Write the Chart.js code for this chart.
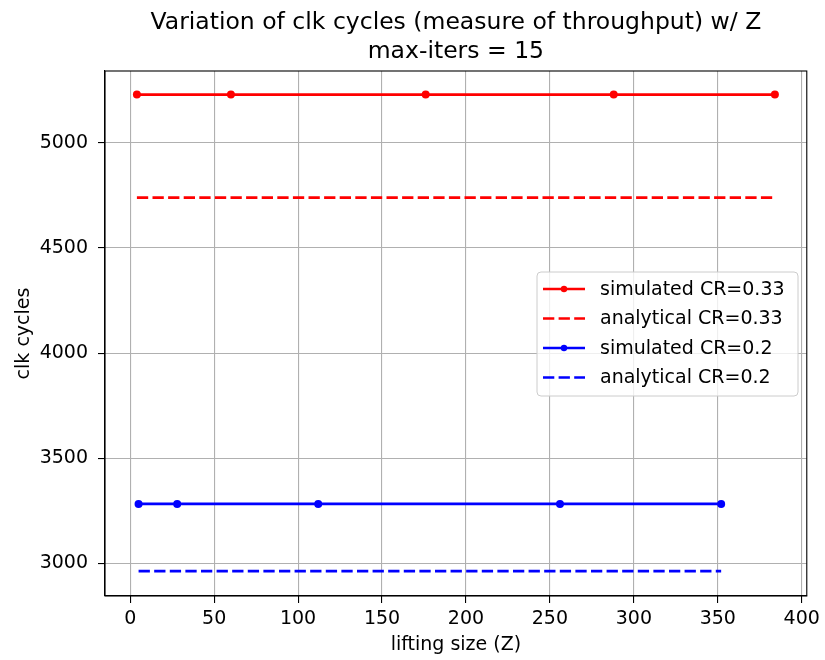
<!DOCTYPE html>
<html>
<head>
<meta charset="utf-8">
<script src="https://cdn.jsdelivr.net/npm/chart.js@4"></script>
<style>
  html, body { margin: 0; padding: 0; background: #fff; }
  #wrap { width: 825px; height: 660px; }
</style>
</head>
<body>
<div id="wrap"><canvas id="clkChart" width="825" height="660"></canvas></div>
<script>
// values
const zCR033 = [4, 60, 176, 288, 384];
const simCR033 = [5230, 5230, 5230, 5230, 5230];
const anaCR033 = [4740, 4740, 4740, 4740, 4740];

const zCR02 = [5, 28, 112, 256, 352];
const simCR02 = [3283, 3283, 3283, 3283, 3283];
const anaCR02 = [2963, 2963, 2963, 2963, 2963];

const xTicks = [0, 50, 100, 150, 200, 250, 300, 350, 400];
const yTicks = [3000, 3500, 4000, 4500, 5000];

const titleLines = ["Variation of clk cycles (measure of throughput) w/ Z", "max-iters = 15"];

const FONT = "'DejaVu Sans', sans-serif";
const toPts = (xs, ys) => xs.map((x, i) => ({ x, y: ys[i] }));

// title centred over the axes, box round the axes, legend inside the plot
const decorations = {
  id: "decorations",
  afterDatasetsDraw(chart) {
    const { ctx, chartArea: a } = chart;
    ctx.save();
    ctx.strokeStyle = "#000";
    ctx.lineWidth = 1.1;
    ctx.strokeRect(a.left, a.top, a.right - a.left, a.bottom - a.top);
    ctx.restore();
  },
  afterDraw(chart) {
    const { ctx, chartArea: a } = chart;
    const cx = (a.left + a.right) / 2;
    ctx.save();
    ctx.fillStyle = "#000";
    ctx.font = "23.5px " + FONT;
    ctx.textAlign = "center";
    ctx.textBaseline = "alphabetic";
    ctx.fillText(titleLines[0], cx, 29);
    ctx.fillText(titleLines[1], cx, 58);

    // legend
    const bx = 537, by = 272, bw = 261, bh = 124, rowH = 29.5;
    ctx.beginPath();
    ctx.roundRect(bx, by, bw, bh, 4);
    ctx.fillStyle = "rgba(255,255,255,0.8)";
    ctx.fill();
    ctx.strokeStyle = "#cccccc";
    ctx.lineWidth = 1;
    ctx.stroke();

    ctx.font = "19px " + FONT;
    ctx.textAlign = "left";
    ctx.textBaseline = "middle";
    chart.data.datasets.forEach((ds, i) => {
      const y = by + 17 + i * rowH;
      ctx.beginPath();
      ctx.strokeStyle = ds.borderColor;
      ctx.lineWidth = ds.borderWidth;
      ctx.setLineDash(ds.borderDash || []);
      ctx.moveTo(543, y);
      ctx.lineTo(585, y);
      ctx.stroke();
      ctx.setLineDash([]);
      if (ds.pointRadius > 0) {
        ctx.beginPath();
        ctx.fillStyle = ds.borderColor;
        ctx.arc(564, y, 3.2, 0, Math.PI * 2);
        ctx.fill();
      }
      ctx.fillStyle = "#000";
      ctx.fillText(ds.label, 600, y + 1);
    });
    ctx.restore();
  }
};

const ctx = document.getElementById("clkChart").getContext("2d");

new Chart(ctx, {
  type: "line",
  data: {
    datasets: [
      {
        label: "simulated CR=0.33",
        data: toPts(zCR033, simCR033),
        borderColor: "#ff0000",
        backgroundColor: "#ff0000",
        borderWidth: 2.7,
        pointRadius: 4,
        pointBorderWidth: 0,
        pointBackgroundColor: "#ff0000",
      },
      {
        label: "analytical CR=0.33",
        data: toPts(zCR033, anaCR033),
        borderColor: "#ff0000",
        borderWidth: 2.7,
        borderDash: [11.3, 4.3],
        pointRadius: 0,
      },
      {
        label: "simulated CR=0.2",
        data: toPts(zCR02, simCR02),
        borderColor: "#0000ff",
        backgroundColor: "#0000ff",
        borderWidth: 2.7,
        pointRadius: 4,
        pointBorderWidth: 0,
        pointBackgroundColor: "#0000ff",
      },
      {
        label: "analytical CR=0.2",
        data: toPts(zCR02, anaCR02),
        borderColor: "#0000ff",
        borderWidth: 2.7,
        borderDash: [11.3, 4.3],
        pointRadius: 0,
      },
    ],
  },
  options: {
    responsive: false,
    animation: false,
    layout: { padding: { top: 71, right: 17, left: 0, bottom: 0 } },
    elements: { line: { tension: 0, fill: false } },
    plugins: {
      legend: { display: false },
      title: { display: false },
      tooltip: { enabled: false },
    },
    scales: {
      x: {
        type: "linear",
        min: -15,
        max: 403,
        afterBuildTicks: (axis) => { axis.ticks = xTicks.map((v) => ({ value: v })); },
        afterFit: (axis) => { axis.height = 64; },
        ticks: {
          callback: (v) => String(v),
          font: { family: FONT, size: 19 },
          color: "#000",
          padding: 5,
          maxRotation: 0,
        },
        grid: { color: "#b0b0b0", lineWidth: 1.1, tickColor: "#000", tickLength: 7 },
        border: { color: "#000", width: 1.1 },
        title: {
          display: true,
          text: "lifting size (Z)",
          font: { family: FONT, size: 19 },
          color: "#000",
          padding: { top: 0, bottom: 3.6 },
        },
      },
      y: {
        type: "linear",
        min: 2845,
        max: 5342,
        afterBuildTicks: (axis) => { axis.ticks = yTicks.map((v) => ({ value: v })); },
        afterFit: (axis) => { axis.width = 105; },
        ticks: {
          callback: (v) => String(v),
          font: { family: FONT, size: 19 },
          color: "#000",
          padding: 10,
        },
        grid: { color: "#b0b0b0", lineWidth: 1.1, tickColor: "#000", tickLength: 7 },
        border: { color: "#000", width: 1.1 },
        title: {
          display: true,
          text: "clk cycles",
          font: { family: FONT, size: 19 },
          color: "#000",
          padding: { top: 12.5, bottom: 0 },
        },
      },
    },
  },
  plugins: [decorations],
});
</script>
</body>
</html>
